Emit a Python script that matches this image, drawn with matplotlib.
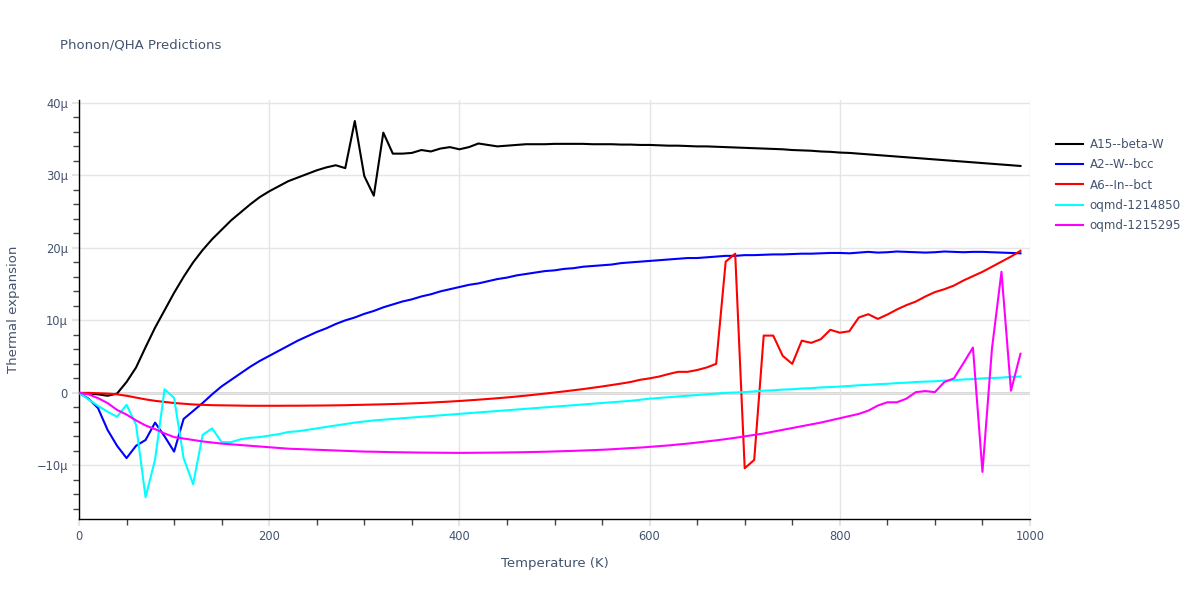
import matplotlib
matplotlib.use('Agg')
import matplotlib.pyplot as plt
from matplotlib.ticker import FuncFormatter, MultipleLocator
import numpy as np

# Temperatur-Raster (K), Schrittweite 10 K
temps = np.arange(0, 1000, 10)

# Thermische Ausdehnung in Einheiten von 1e-6
a15_beta_w = [
    0.0, -0.1, -0.2, -0.4, -0.1, 1.5, 3.5, 6.3, 9.0, 11.4,
    13.8, 16.0, 18.0, 19.7, 21.2, 22.5, 23.8, 24.9, 26.0, 27.0,
    27.8, 28.5, 29.2, 29.7, 30.2, 30.7, 31.1, 31.4, 31.0, 37.5,
    29.9, 27.2, 35.9, 33.0, 33.0, 33.1, 33.5, 33.3, 33.7, 33.9,
    33.6, 33.9, 34.4, 34.2, 34.0, 34.1, 34.2, 34.3, 34.3, 34.3,
    34.35, 34.35, 34.35, 34.35, 34.3, 34.3, 34.3, 34.25, 34.25, 34.2,
    34.2, 34.15, 34.1, 34.1, 34.05, 34.0, 34.0, 33.95, 33.9, 33.85,
    33.8, 33.75, 33.7, 33.65, 33.6, 33.5, 33.45, 33.4, 33.3, 33.25,
    33.15, 33.1, 33.0, 32.9, 32.8, 32.7, 32.6, 32.5, 32.4, 32.3,
    32.2, 32.1, 32.0, 31.9, 31.8, 31.7, 31.6, 31.5, 31.4, 31.3,
]
a2_w_bcc = [
    0.0, -0.8, -2.1, -5.1, -7.3, -9.0, -7.3, -6.5, -4.1, -6.0,
    -8.1, -3.6, -2.5, -1.4, -0.2, 0.9, 1.8, 2.7, 3.6, 4.4,
    5.1, 5.8, 6.5, 7.2, 7.8, 8.4, 8.9, 9.5, 10.0, 10.4,
    10.9, 11.3, 11.8, 12.2, 12.6, 12.9, 13.3, 13.6, 14.0, 14.3,
    14.6, 14.9, 15.1, 15.4, 15.7, 15.9, 16.2, 16.4, 16.6, 16.8,
    16.9, 17.1, 17.2, 17.4, 17.5, 17.6, 17.7, 17.9, 18.0, 18.1,
    18.2, 18.3, 18.4, 18.5, 18.6, 18.6, 18.7, 18.8, 18.9, 18.9,
    19.0, 19.0, 19.05, 19.1, 19.1, 19.15, 19.2, 19.2, 19.25, 19.3,
    19.3, 19.25, 19.35, 19.45, 19.35, 19.4, 19.5, 19.45, 19.4, 19.35,
    19.4, 19.5, 19.45, 19.4, 19.45, 19.45, 19.4, 19.35, 19.3, 19.25,
]
a6_in_bct = [
    0.0, 0.0, -0.05, -0.1, -0.2, -0.4, -0.65, -0.9, -1.1, -1.25,
    -1.4, -1.5, -1.6, -1.65, -1.7, -1.72, -1.74, -1.76, -1.78, -1.78,
    -1.78, -1.78, -1.77, -1.77, -1.76, -1.75, -1.74, -1.72, -1.7, -1.67,
    -1.64, -1.61, -1.58, -1.54, -1.5, -1.45, -1.4, -1.34, -1.27, -1.2,
    -1.12, -1.03, -0.94, -0.84, -0.74, -0.63, -0.51, -0.38, -0.24, -0.1,
    0.05, 0.2, 0.36, 0.52, 0.7, 0.88, 1.08, 1.28, 1.5, 1.8,
    2.0, 2.25, 2.6, 2.9, 2.9, 3.15, 3.5, 4.0, 18.1, 19.2,
    -10.4, -9.25, 7.9, 7.9, 5.1, 4.0, 7.2, 6.9, 7.4, 8.7,
    8.3, 8.5, 10.4, 10.85, 10.2, 10.8, 11.5, 12.1, 12.6, 13.3,
    13.9, 14.3, 14.8, 15.5, 16.1, 16.7, 17.4, 18.1, 18.8, 19.6,
]
oqmd_1214850 = [
    0.0, -0.9, -1.8, -2.6, -3.3, -1.65, -4.4, -14.4, -9.2, 0.5,
    -0.7, -9.0, -12.6, -5.8, -4.9, -6.8, -6.8, -6.4, -6.2, -6.1,
    -5.9, -5.7, -5.4, -5.3, -5.1, -4.9, -4.7, -4.5, -4.3, -4.1,
    -3.95, -3.8, -3.7, -3.6, -3.5, -3.4, -3.3, -3.2, -3.1, -3.0,
    -2.9, -2.8, -2.7, -2.6, -2.5, -2.4, -2.3, -2.2, -2.1, -2.0,
    -1.9, -1.8, -1.7, -1.6, -1.5, -1.4, -1.3, -1.2, -1.1, -0.95,
    -0.8, -0.7, -0.6, -0.5, -0.4, -0.3, -0.2, -0.1, 0.0, 0.05,
    0.1, 0.2, 0.3, 0.35, 0.45, 0.5, 0.6, 0.65, 0.75, 0.8,
    0.87, 0.95, 1.05, 1.1, 1.2, 1.25, 1.35, 1.4, 1.5, 1.55,
    1.6, 1.7, 1.75, 1.85, 1.9, 2.0, 2.05, 2.1, 2.2, 2.25,
]
oqmd_1215295 = [
    0.0, -0.2, -0.73, -1.4, -2.35, -3.0, -3.8, -4.5, -5.0, -5.6,
    -6.1, -6.3, -6.5, -6.7, -6.85, -7.0, -7.1, -7.2, -7.3, -7.4,
    -7.5, -7.6, -7.7, -7.75, -7.8, -7.85, -7.9, -7.95, -8.0, -8.05,
    -8.1, -8.12, -8.15, -8.18, -8.2, -8.22, -8.24, -8.25, -8.26, -8.27,
    -8.28, -8.27, -8.26, -8.25, -8.24, -8.22, -8.2, -8.18, -8.15, -8.12,
    -8.08, -8.04, -8.0, -7.95, -7.9, -7.85, -7.78, -7.7, -7.62, -7.55,
    -7.45, -7.35, -7.25, -7.12, -7.0, -6.85, -6.7, -6.55, -6.38, -6.2,
    -6.0, -5.8, -5.6, -5.35, -5.1, -4.85, -4.6, -4.35, -4.1, -3.8,
    -3.5, -3.2, -2.9, -2.45, -1.75, -1.3, -1.3, -0.8, 0.1, 0.25,
    0.1, 1.5, 2.0, 4.1, 6.25, -10.9, 6.1, 16.7, 0.3, 5.4,
]

series = [
    ('A15--beta-W', a15_beta_w, '#000000'),
    ('A2--W--bcc', a2_w_bcc, '#0000ff'),
    ('A6--In--bct', a6_in_bct, '#ff0000'),
    ('oqmd-1214850', oqmd_1214850, '#00ffff'),
    ('oqmd-1215295', oqmd_1215295, '#ff00ff'),
]

txt = '#44546f'
plt.rcParams['font.family'] = ['DejaVu Sans']

fig = plt.figure(figsize=(12, 6), dpi=100)
ax = fig.add_axes([79/1200, 1 - 519/600, (1030 - 79)/1200, (519 - 100)/600])

for name, vals, col in series:
    ax.plot(temps, vals, color=col, linewidth=1.5, label=name, zorder=3)

ax.set_xlim(0, 1000)
ax.set_ylim(-17.4, 40.4)

ax.xaxis.set_major_locator(MultipleLocator(200))
ax.xaxis.set_minor_locator(MultipleLocator(50))
ax.yaxis.set_major_locator(MultipleLocator(10))
ax.yaxis.set_minor_locator(MultipleLocator(2))

def fmt_y(v, pos):
    if abs(v) < 1e-9:
        return '0'
    s = f'{int(round(v))}\u03bc'
    return s.replace('-', '\u2212')

ax.yaxis.set_major_formatter(FuncFormatter(fmt_y))
ax.grid(True, which='major', color='#e5e5e5', linewidth=1.0, zorder=0)
ax.axhline(0, color='#d4d4d4', linewidth=2.0, zorder=1)

for side in ('top', 'right'):
    ax.spines[side].set_visible(False)
for side in ('left', 'bottom'):
    ax.spines[side].set_color('#000000')
    ax.spines[side].set_linewidth(1.0)

ax.tick_params(which='major', direction='out', length=5, color='#e5e5e5',
               width=1.5, labelsize=8.3, labelcolor=txt, pad=3)
ax.tick_params(which='minor', direction='out', length=4, color='#444444', width=1)

ax.set_xlabel('Temperature (K)', fontsize=9.5, color=txt, labelpad=10)
ax.set_ylabel('Thermal expansion', fontsize=9.5, color=txt, labelpad=12)

fig.text(60/1200, 1 - 45/600, 'Phonon/QHA Predictions', fontsize=9.5,
         color=txt, va='center', ha='left')

leg = ax.legend(loc='upper left', bbox_to_anchor=(1045/1200, 1 - 127/600),
                bbox_transform=fig.transFigure, frameon=False, fontsize=8.6,
                handlelength=2.3, handletextpad=0.55, labelspacing=0.62)
for t in leg.get_texts():
    t.set_color(txt)

fig.savefig('out.png', dpi=100)
